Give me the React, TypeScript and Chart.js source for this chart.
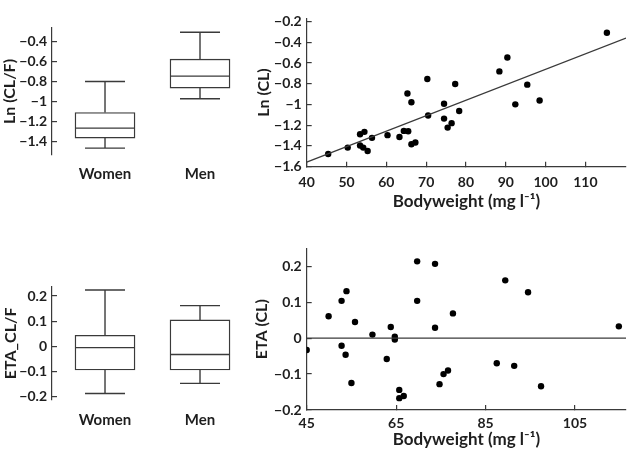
import React, { useEffect, useRef } from "react";
import { Chart, registerables } from "chart.js";

Chart.register(...registerables);

// ---------- data ----------
const sexCategories = ["Women", "Men"];
// box statistics: [min, q1, median, q3, max]
const lnClfWomen = [-1.466, -1.366, -1.266, -1.11, -0.8];
const lnClfMen = [-0.973, -0.866, -0.746, -0.576, -0.307];
const etaClfWomen = [-0.187, -0.094, -0.005, 0.044, 0.224];
const etaClfMen = [-0.147, -0.094, -0.032, 0.105, 0.162];

const weightTop = [45.4, 50.3, 53.4, 54.5, 53.4, 54.2, 55.3, 56.4, 60.3, 63.3, 64.4, 65.5, 65.3, 66.3, 66.3, 67.3, 70.3, 70.5, 74.5, 74.5, 76.4, 75.4, 77.3, 78.3, 88.4, 90.4, 92.4, 95.4, 98.5, 115.4];
const lnCl = [-1.477, -1.416, -1.287, -1.264, -1.395, -1.416, -1.448, -1.322, -1.296, -1.314, -1.255, -1.258, -0.894, -0.978, -1.384, -1.366, -0.754, -1.107, -0.993, -1.136, -1.18, -1.223, -0.803, -1.063, -0.681, -0.547, -0.999, -0.809, -0.961, -0.308];
const fitX = [40, 120.2];
const fitY = [-1.556, -0.36];

const weightBottom = [45, 49.9, 52.8, 53.9, 52.8, 53.7, 55.0, 55.8, 59.7, 62.9, 63.8, 64.7, 64.7, 65.7, 65.7, 66.7, 69.7, 69.7, 73.7, 73.7, 74.7, 75.6, 76.6, 77.7, 87.5, 89.4, 91.4, 94.5, 97.4, 114.8];
const etaCl = [-0.033, 0.061, 0.104, 0.131, -0.021, -0.046, -0.125, 0.045, 0.01, -0.058, 0.031, 0.004, -0.004, -0.144, -0.167, -0.161, 0.214, 0.104, 0.207, 0.029, -0.128, -0.1, -0.09, 0.069, -0.07, 0.161, -0.077, 0.128, -0.134, 0.033];
const zeroX = [45, 116.4];
const zeroY = [0, 0];

const lnClfTicks = [-1.4, -1.2, -1, -0.8, -0.6, -0.4];
const etaClfTicks = [-0.2, -0.1, 0, 0.1, 0.2];
const lnClTicks = [-1.6, -1.4, -1.2, -1, -0.8, -0.6, -0.4, -0.2];
const etaClTicks = [-0.2, -0.1, 0, 0.1, 0.2];
const weightTicksTop = [40, 50, 60, 70, 80, 90, 100, 110];
const weightTicksBottom = [45, 65, 85, 105];

// ---------- styling ----------
const FONT = "Lato, 'DejaVu Sans', sans-serif";
const INK = "#1e1e1e";
const LINE = "#3a3a3a";
Chart.defaults.font.family = FONT;
Chart.defaults.color = INK;

const fmt = (v: number) => String(v).replace("-", "\u2212");

const boxPlugin = {
  id: "boxWhiskers",
  afterDatasetsDraw(chart: any, _args: any, opts: any) {
    const { ctx } = chart;
    const x = chart.scales.x;
    const y = chart.scales.y;
    const stats: number[][] = opts.stats || [];
    ctx.save();
    ctx.strokeStyle = LINE;
    ctx.lineWidth = 1.4;
    const seg = (x1: number, y1: number, x2: number, y2: number) => {
      ctx.beginPath();
      ctx.moveTo(x1, y1);
      ctx.lineTo(x2, y2);
      ctx.stroke();
    };
    stats.forEach((s, i) => {
      const cx = x.getPixelForValue(i + 1);
      const bh = opts.boxHalf;
      const ch = opts.capHalf;
      seg(cx - bh, y.getPixelForValue(s[2]), cx + bh, y.getPixelForValue(s[2]));
      seg(cx, y.getPixelForValue(s[3]), cx, y.getPixelForValue(s[4]));
      seg(cx, y.getPixelForValue(s[1]), cx, y.getPixelForValue(s[0]));
      seg(cx - ch, y.getPixelForValue(s[4]), cx + ch, y.getPixelForValue(s[4]));
      seg(cx - ch, y.getPixelForValue(s[0]), cx + ch, y.getPixelForValue(s[0]));
    });
    ctx.restore();
  },
};

const yAxisCommon = (min: number, max: number, ticks: number[], title: string, width: number, titlePad: number) => ({
  type: "linear",
  position: "left",
  min,
  max,
  afterBuildTicks: (s: any) => {
    s.ticks = ticks.map((v) => ({ value: v }));
  },
  afterFit: (s: any) => {
    s.width = width;
  },
  grid: { display: true, drawOnChartArea: false, drawTicks: true, tickLength: -5, color: LINE, lineWidth: 1.2 },
  border: { display: true, color: LINE, width: 1.2 },
  ticks: { font: { size: 14, weight: "bold" }, color: INK, padding: 10, callback: (v: number) => fmt(v) },
  title: { display: true, text: title, font: { size: 16, weight: "bold" }, color: INK, padding: { top: titlePad, bottom: 0 } },
});

function boxConfig(stats: number[][], yMin: number, yMax: number, yTicks: number[], title: string, padTop: number, xHeight: number, xPad: number, titlePad: number) {
  return {
    type: "bar",
    data: {
      datasets: [
        {
          data: stats.map((s, i) => ({ x: i + 1, y: [s[1], s[3]] })),
          backgroundColor: "#fff",
          borderColor: LINE,
          borderWidth: 1.4,
          borderSkipped: false,
          barThickness: 60,
        },
      ],
    },
    options: {
      responsive: false,
      maintainAspectRatio: false,
      animation: false,
      events: [],
      layout: { padding: { top: padTop, right: 0, left: 0, bottom: 0 } },
      plugins: {
        legend: { display: false },
        tooltip: { enabled: false },
        boxWhiskers: { stats, boxHalf: 30, capHalf: 20 },
      },
      scales: {
        x: {
          type: "linear",
          offset: false,
          min: 0.442,
          max: 2.421,
          afterBuildTicks: (s: any) => {
            s.ticks = sexCategories.map((_, i) => ({ value: i + 1 }));
          },
          afterFit: (s: any) => {
            s.height = xHeight;
          },
          grid: { display: false },
          border: { display: false },
          ticks: {
            font: { size: 15, weight: "bold" },
            color: INK,
            padding: xPad,
            maxRotation: 0,
            callback: (v: number) => sexCategories[Math.round(v) - 1] ?? "",
          },
        },
        y: yAxisCommon(yMin, yMax, yTicks, title, 52, titlePad),
      },
    },
    plugins: [boxPlugin],
  };
}

function scatterConfig(
  xs: number[], ys: number[], lx: number[], ly: number[],
  xMin: number, xMax: number, xTicks: number[],
  yMin: number, yMax: number, yTicks: number[], yTitle: string,
  padTop: number, xHeight: number, xPad: number, xTitlePad: number, yTitlePad: number
) {
  return {
    type: "scatter",
    data: {
      datasets: [
        {
          data: lx.map((v, i) => ({ x: v, y: ly[i] })),
          showLine: true,
          borderColor: LINE,
          borderWidth: 1.3,
          pointRadius: 0,
          fill: false,
        },
        {
          data: xs.map((v, i) => ({ x: v, y: ys[i] })),
          pointRadius: 3.2,
          pointBackgroundColor: "#000",
          pointBorderWidth: 0,
          borderWidth: 0,
          backgroundColor: "#000",
        },
      ],
    },
    options: {
      responsive: false,
      maintainAspectRatio: false,
      animation: false,
      events: [],
      layout: { padding: { top: padTop, right: 0, left: 0, bottom: 0 } },
      plugins: { legend: { display: false }, tooltip: { enabled: false } },
      scales: {
        x: {
          type: "linear",
          position: "bottom",
          min: xMin,
          max: xMax,
          afterBuildTicks: (s: any) => {
            s.ticks = xTicks.map((v) => ({ value: v }));
          },
          afterFit: (s: any) => {
            s.height = xHeight;
          },
          grid: { display: true, drawOnChartArea: false, drawTicks: true, tickLength: -5, color: LINE, lineWidth: 1.2 },
          border: { display: true, color: LINE, width: 1.2 },
          ticks: { font: { size: 14, weight: "bold" }, color: INK, padding: xPad, maxRotation: 0, callback: (v: number) => fmt(v) },
          title: {
            display: true,
            text: "Bodyweight (mg l\u207B\u00B9)",
            font: { size: 17, weight: "bold" },
            color: INK,
            padding: { top: 0, bottom: xTitlePad },
          },
        },
        y: yAxisCommon(yMin, yMax, yTicks, yTitle, 66.7, yTitlePad),
      },
    },
  };
}

function ChartCanvas({ left, top, width, height, make }: any) {
  const ref = useRef<HTMLCanvasElement | null>(null);
  useEffect(() => {
    const chart = new Chart(ref.current as HTMLCanvasElement, make());
    return () => chart.destroy();
  }, []);
  return (
    <canvas
      ref={ref}
      width={width}
      height={height}
      style={{ position: "absolute", left, top, width, height, display: "block" }}
    />
  );
}

export default function App() {
  return (
    <div style={{ position: "absolute", left: 0, top: 0, width: 630, height: 453, background: "#fff", overflow: "hidden" }}>
      <ChartCanvas
        left={0}
        top={0}
        width={240}
        height={200}
        make={() => boxConfig([lnClfWomen, lnClfMen], -1.535, -0.265, lnClfTicks, "Ln (CL/F)", 28, 45, 2, 0.5)}
      />
      <ChartCanvas
        left={0}
        top={240}
        width={240}
        height={213}
        make={() => boxConfig([etaClfWomen, etaClfMen], -0.213, 0.237, etaClfTicks, "ETA_CL/F", 46.7, 53, 3.6, 1.5)}
      />
      <ChartCanvas
        left={240}
        top={0}
        width={390}
        height={230}
        make={() =>
          scatterConfig(weightTop, lnCl, fitX, fitY, 40, 120.2, weightTicksTop, -1.6, -0.17, lnClTicks, "Ln (CL)", 3.3, 63.3, 12.2, 18.7, 14)
        }
      />
      <ChartCanvas
        left={240}
        top={230}
        width={390}
        height={223}
        make={() =>
          scatterConfig(weightBottom, etaCl, zeroX, zeroY, 45, 116.4, weightTicksBottom, -0.2, 0.25, etaClTicks, "ETA (CL)", 5.6, 43, 10.5, 3.4, 12.5)
        }
      />
    </div>
  );
}
